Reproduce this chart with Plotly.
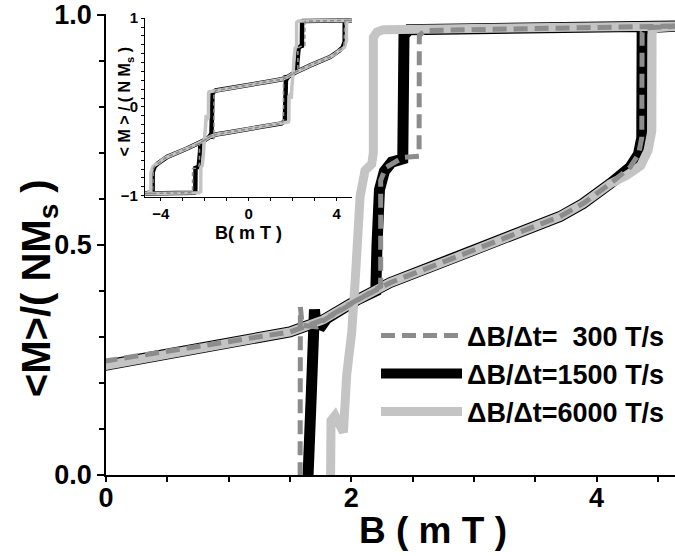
import plotly.graph_objects as go

# Magnetisation loops of a molecular magnet at three field sweep rates.
# Each branch is given for the positive-field half; the negative half of the
# loop follows from the point symmetry M(-B) = -M(B) of the opposite branch.

rate_labels = ["ΔB/Δt=\u00a0\u00a0300 T/s", "ΔB/Δt=1500 T/s", "ΔB/Δt=6000 T/s"]

# Field sweeping down from positive saturation (B in mT, M in units of N*Ms)
b_down_300 = [4.70, 4.40, 4.372, 4.369, 4.342, 4.274, 4.111, 3.89, 3.703,
              2.806, 2.316, 2.045, 1.77, 1.50, 1.00, 0.50, 0.00]
m_down_300 = [0.976, 0.972, 0.962, 0.733, 0.697, 0.669, 0.633, 0.590, 0.562,
              0.468, 0.418, 0.380, 0.337, 0.311, 0.290, 0.268, 0.247]

b_down_1500 = [4.70, 4.40, 4.372, 4.369, 4.342, 4.274, 4.111, 3.89, 3.703,
               2.806, 2.316, 2.045, 1.77, 1.50, 1.00, 0.50, 0.00]
m_down_1500 = [0.976, 0.972, 0.962, 0.733, 0.697, 0.669, 0.633, 0.590, 0.562,
               0.468, 0.418, 0.380, 0.337, 0.311, 0.290, 0.268, 0.247]

b_down_6000 = [4.70, 4.48, 4.453, 4.451, 4.42, 4.36, 4.25, 4.111, 3.89, 3.703,
               2.806, 2.316, 2.045, 1.77, 1.50, 1.00, 0.50, 0.00]
m_down_6000 = [0.976, 0.972, 0.962, 0.748, 0.705, 0.672, 0.652, 0.633, 0.590,
               0.562, 0.468, 0.418, 0.380, 0.337, 0.311, 0.290, 0.268, 0.247]

# Field sweeping up from zero towards positive saturation
b_up_300 = [0.00, 0.50, 1.00, 1.50, 1.582, 1.585, 1.60, 1.72, 1.78, 2.045,
            2.24, 2.24, 2.28, 2.42, 2.553, 2.555, 2.60, 4.70]
m_up_300 = [-0.247, -0.228, -0.207, -0.185, -0.15, 0.365, 0.325, 0.322, 0.337,
            0.380, 0.41, 0.64, 0.668, 0.69, 0.693, 0.955, 0.966, 0.976]

b_up_1500 = [0.00, 0.50, 1.00, 1.50, 1.646, 1.648, 1.673, 1.686, 1.70, 1.71,
             1.76, 1.80, 2.045, 2.20, 2.21, 2.23, 2.27, 2.33, 2.42, 2.43, 2.47,
             4.70]
m_up_1500 = [-0.247, -0.228, -0.207, -0.185, -0.16, 0.0, 0.168, 0.275, 0.36,
             0.33, 0.325, 0.34, 0.380, 0.40, 0.50, 0.62, 0.66, 0.68, 0.687,
             0.955, 0.968, 0.976]

b_up_6000 = [0.00, 0.50, 1.00, 1.50, 1.80, 1.827, 1.827, 1.835, 1.868, 1.936,
             1.963, 2.004, 2.031, 2.058, 2.072, 2.112, 2.167, 2.18, 2.18, 2.21,
             2.262, 4.70]
m_up_6000 = [-0.247, -0.228, -0.207, -0.185, -0.17, -0.15, 0.0, 0.118, 0.129,
             0.093, 0.218, 0.311, 0.418, 0.526, 0.605, 0.662, 0.676, 0.70,
             0.951, 0.963, 0.968, 0.976]

colors = ["#8c8c8c", "#000000", "#c4c4c4"]
main_widths = [5, 11, 9]
inset_widths = [1.6, 4.5, 3.5]
main_dash = ["14px,7px", "solid", "solid"]
inset_dash = ["4px,3px", "solid", "solid"]


def full_loop(b_dn, m_dn, b_up, m_up):
    # down sweep: +sat -> 0 -> -sat ; up sweep: -sat -> 0 -> +sat
    bd = list(b_dn) + [-b for b in b_up]
    md = list(m_dn) + [-m for m in m_up]
    bu = [-b for b in b_dn] + list(b_up)
    mu = [-m for m in m_dn] + list(m_up)
    return bd + bu, md + mu


loops = [
    full_loop(b_down_300, m_down_300, b_up_300, m_up_300),
    full_loop(b_down_1500, m_down_1500, b_up_1500, m_up_1500),
    full_loop(b_down_6000, m_down_6000, b_up_6000, m_up_6000),
]

FONT = "Liberation Sans, Arial, sans-serif"

fig = go.Figure()

# drawing order: black underneath, light grey over it, dashed grey on top
draw_order = [1, 2, 0]
for i in draw_order:
    bx, my = loops[i]
    fig.add_trace(go.Scatter(
        x=bx, y=my, mode="lines", name=rate_labels[i],
        line=dict(color=colors[i], width=main_widths[i], dash=main_dash[i]),
        legendrank=i + 1, xaxis="x", yaxis="y", hoverinfo="skip",
    ))
for i in draw_order:
    bx, my = loops[i]
    fig.add_trace(go.Scatter(
        x=bx, y=my, mode="lines", showlegend=False,
        line=dict(color=colors[i], width=inset_widths[i], dash=inset_dash[i]),
        xaxis="x2", yaxis="y2", hoverinfo="skip",
    ))

axis_common = dict(
    showgrid=False, zeroline=False, showline=True, linecolor="black",
    ticks="outside", tickcolor="black", ticklabeloverflow="allow",
)

fig.update_layout(
    width=675, height=556,
    margin=dict(l=106, r=0, t=9, b=81),
    plot_bgcolor="white", paper_bgcolor="white",
    font=dict(family=FONT, color="black", size=26, weight="bold"),
    showlegend=True,
    legend=dict(
        x=0.4745, y=0.355, xanchor="left", yanchor="top",
        bgcolor="rgba(0,0,0,0)", font=dict(size=27, family=FONT, weight="bold"),
        itemwidth=81, tracegroupgap=0,
    ),
    xaxis=dict(
        **axis_common, linewidth=1.5, tickwidth=1.5,
        domain=[0, 1], range=[0, 4.64],
        tickvals=[0, 2, 4], ticklen=5, ticklabelstandoff=-7,
        tickfont=dict(size=27),
        minor=dict(dtick=0.5, ticks="outside", ticklen=5, tickcolor="black",
                   tickwidth=1.5, showgrid=False),
        anchor="y",
    ),
    yaxis=dict(
        **axis_common, linewidth=1.5, tickwidth=1.5,
        domain=[0, 1], range=[0, 1.002],
        tickvals=[0, 0.5, 1.0], ticktext=["0.0", "0.5", "1.0"], ticklen=7,
        tickfont=dict(size=27),
        minor=dict(dtick=0.1, ticks="outside", ticklen=5, tickcolor="black",
                   tickwidth=1.5, showgrid=False),
        anchor="x",
    ),
    xaxis2=dict(
        **axis_common, linewidth=1, tickwidth=1,
        domain=[0.0685, 0.4323], range=[-4.72, 4.70],
        tickvals=[-4, 0, 4], ticklen=3, tickfont=dict(size=15),
        minor=dict(dtick=1, ticks="outside", ticklen=3, tickcolor="black",
                   tickwidth=1, showgrid=False),
        anchor="y2",
    ),
    yaxis2=dict(
        **axis_common, linewidth=1, tickwidth=1,
        domain=[0.602, 0.991], range=[-1.02, 1.0],
        tickvals=[-1, 0, 1], ticklen=3, tickfont=dict(size=15),
        minor=dict(dtick=0.1, ticks="outside", ticklen=3, tickcolor="black",
                   tickwidth=1, showgrid=False),
        anchor="x2",
    ),
)

fig.add_annotation(
    text="B ( m T )", xref="paper", yref="paper", x=0.575, y=-0.121,
    xanchor="center", yanchor="middle", showarrow=False,
    font=dict(size=37, family=FONT, weight="bold"),
)
fig.add_annotation(
    text="<M>/( NM<sub>s</sub> )", xref="paper", yref="paper",
    x=-0.118, y=0.405, xanchor="center", yanchor="middle", textangle=-90,
    showarrow=False, font=dict(size=40, family=FONT, weight="bold"),
)
fig.add_annotation(
    text="B( m T )", xref="paper", yref="paper", x=0.2496, y=0.524,
    xanchor="center", yanchor="middle", showarrow=False,
    font=dict(size=18, family=FONT, weight="bold"),
)
fig.add_annotation(
    text="< M > / ( N M<sub>s</sub> )", xref="paper", yref="paper",
    x=0.034, y=0.809, xanchor="center", yanchor="middle", textangle=-90,
    showarrow=False, font=dict(size=16, family=FONT, weight="bold"),
)

fig.write_html("out.html")
